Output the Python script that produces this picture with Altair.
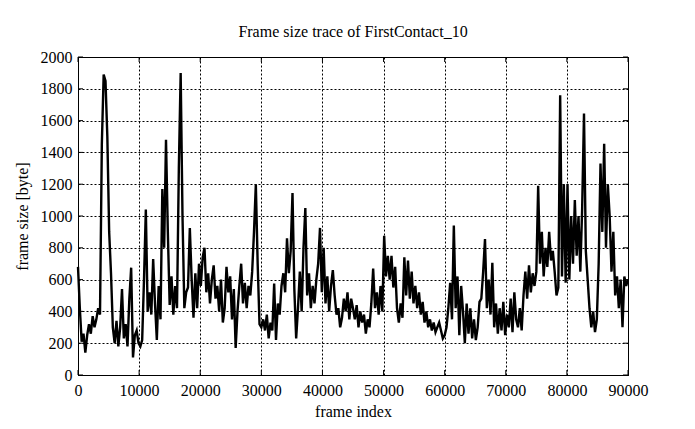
import altair as alt
import pandas as pd

# frame index sampled every 300 frames
frame_index = list(range(0, 90001, 300))

frame_size = (
    [680, 420, 210, 260, 140, 250, 320, 260, 370, 300]
    + [350, 420, 380, 1450, 1890, 1850, 1500, 900, 640, 300]
    + [200, 340, 180, 300, 540, 230, 320, 180, 480, 675]
    + [110, 250, 280, 200, 180, 220, 600, 1040, 400, 520]
    + [380, 730, 450, 220, 560, 350, 1170, 800, 1480, 900]
    + [440, 620, 380, 560, 420, 1300, 1900, 1000, 420, 520]
    + [550, 925, 600, 360, 640, 420, 700, 560, 740, 800]
    + [520, 640, 450, 600, 690, 480, 560, 400, 600, 330]
    + [420, 680, 520, 620, 350, 540, 170, 400, 560, 700]
    + [450, 580, 420, 560, 500, 650, 900, 1200, 700, 320]
    + [300, 350, 280, 380, 230, 330, 280, 575, 220, 450]
    + [380, 560, 640, 520, 860, 640, 780, 1145, 540, 230]
    + [420, 650, 400, 800, 1050, 500, 640, 420, 560, 450]
    + [600, 700, 925, 520, 800, 450, 620, 400, 560, 660]
    + [500, 380, 420, 300, 360, 480, 400, 520, 350, 480]
    + [420, 350, 440, 300, 400, 330, 380, 260, 350, 300]
    + [450, 670, 420, 520, 380, 560, 400, 875, 620, 750]
    + [600, 750, 550, 680, 420, 330, 450, 360, 740, 500]
    + [720, 480, 650, 450, 560, 420, 520, 380, 460, 330]
    + [400, 300, 350, 280, 330, 270, 300, 330, 280, 230]
    + [250, 300, 420, 580, 350, 940, 420, 620, 250, 560]
    + [400, 200, 450, 260, 420, 230, 350, 220, 300, 460]
    + [480, 650, 855, 420, 600, 380, 705, 300, 450, 260]
    + [420, 280, 460, 250, 380, 300, 480, 270, 520, 350]
    + [300, 420, 280, 500, 650, 480, 690, 520, 640, 560]
    + [650, 1190, 700, 900, 620, 800, 680, 900, 720, 780]
    + [650, 500, 550, 1760, 620, 1200, 580, 1200, 600, 1000]
    + [700, 1100, 750, 1000, 650, 1050, 1645, 780, 600, 420]
    + [300, 400, 270, 350, 700, 1330, 900, 1455, 800, 1200]
    + [1000, 650, 900, 500, 620, 420, 600, 300, 620, 560]
    + [600]
)

x_ticks = list(range(0, 90001, 10000))
y_ticks = list(range(0, 2001, 200))

df = pd.DataFrame({"frame": frame_index, "size": frame_size})
xt_df = pd.DataFrame({"frame": x_ticks})
yt_df = pd.DataFrame({"size": y_ticks})

FONT = "Liberation Serif"
W, H = 550, 318

x_enc = alt.X(
    "frame:Q",
    scale=alt.Scale(domain=[0, 90000], nice=False, zero=False),
    axis=alt.Axis(title="frame index", values=x_ticks, format="d",
                  labelFlush=False, labelOverlap=False,
                  labelPadding=7, titlePadding=5),
)
y_enc = alt.Y(
    "size:Q",
    scale=alt.Scale(domain=[0, 2000], nice=False),
    axis=alt.Axis(title="frame size [byte]", values=y_ticks, format="d",
                  labelFlush=False, labelOverlap=False,
                  labelPadding=6, titlePadding=10),
)

trace = alt.Chart(df).mark_line(color="black", strokeWidth=2.4, strokeJoin="miter").encode(
    x=x_enc, y=y_enc
)

# inward tick marks (gnuplot style) on all four sides
tick_top = alt.Chart(xt_df).mark_rule(color="black", strokeWidth=1).encode(
    x=x_enc, y=alt.value(0), y2=alt.value(5)
)
tick_bottom = alt.Chart(xt_df).mark_rule(color="black", strokeWidth=1).encode(
    x=x_enc, y=alt.value(H - 5), y2=alt.value(H)
)
tick_left = alt.Chart(yt_df).mark_rule(color="black", strokeWidth=1).encode(
    y=y_enc, x=alt.value(0), x2=alt.value(5)
)
tick_right = alt.Chart(yt_df).mark_rule(color="black", strokeWidth=1).encode(
    y=y_enc, x=alt.value(W - 5), x2=alt.value(W)
)

chart = (
    alt.layer(trace, tick_top, tick_bottom, tick_left, tick_right)
    .properties(
        width=W,
        height=H,
        title=alt.TitleParams(
            "Frame size trace of FirstContact_10",
            font=FONT, fontSize=16, fontWeight="normal", color="black",
            anchor="middle", frame="group", offset=9,
        ),
        autosize=alt.AutoSizeParams(type="none"),
        padding={"left": 70, "top": 49, "right": 59, "bottom": 46},
    )
    .configure_view(stroke="black", strokeWidth=1)
    .configure_axis(
        grid=True,
        gridColor="black",
        gridDash=[2, 2],
        gridOpacity=1,
        gridWidth=1,
        ticks=False,
        domainColor="black",
        labelFont=FONT,
        labelFontSize=16,
        labelColor="black",
        titleFont=FONT,
        titleFontSize=16,
        titleFontWeight="normal",
        titleColor="black",
    )
)

chart.save("out.html", embed_options={"renderer": "svg", "actions": False})
